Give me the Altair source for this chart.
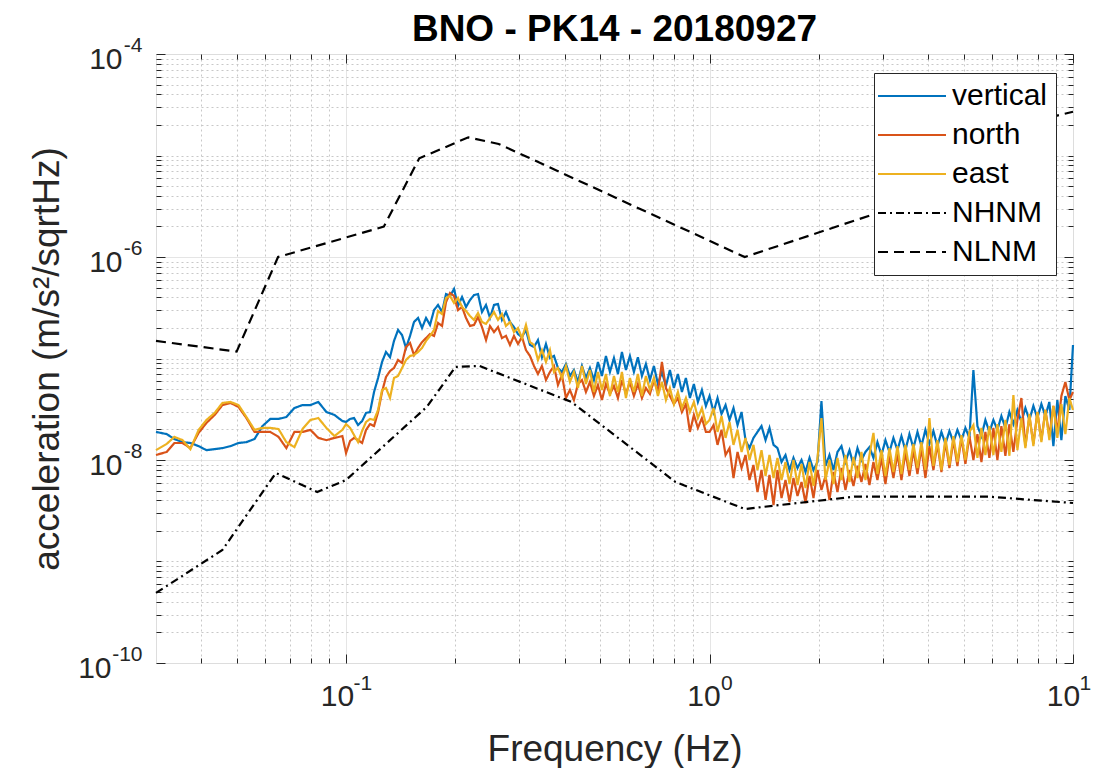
import altair as alt
import pandas as pd

TITLE = "BNO - PK14 - 20180927"
SERIES = ["vertical", "north", "east", "NHNM", "NLNM"]
COLORS = ["#0072BD", "#D95319", "#EDB120", "#000000", "#000000"]
DASHES = [[1, 0], [1, 0], [1, 0], [8, 4, 2, 4], [10, 6]]

# ---------------- frequency grid of the spectra (Hz) ----------------
FREQ_LOW = [0.0300, 0.0321, 0.0337, 0.0355, 0.0373, 0.0393, 0.0413, 0.0435, 0.0457, 0.0481,
            0.0506, 0.0532, 0.0560, 0.0589, 0.0619, 0.0652, 0.0685, 0.0721, 0.0759, 0.0798,
            0.0839, 0.0883, 0.0929, 0.0977]
FREQ_MID = [0.1000, 0.1026, 0.1052, 0.1079, 0.1107, 0.1135, 0.1164, 0.1194, 0.1225, 0.1256,
            0.1288, 0.1321, 0.1355, 0.1390, 0.1426, 0.1462, 0.1500, 0.1538, 0.1578, 0.1618,
            0.1660, 0.1702, 0.1746, 0.1791, 0.1837, 0.1884, 0.1932, 0.1982, 0.2032, 0.2085,
            0.2138, 0.2193, 0.2249, 0.2307, 0.2366, 0.2427, 0.2489, 0.2553, 0.2618, 0.2685,
            0.2754, 0.2825, 0.2897, 0.2972, 0.3048, 0.3126, 0.3206, 0.3289, 0.3373, 0.3459,
            0.3548, 0.3639, 0.3733, 0.3828, 0.3926, 0.4027, 0.4130, 0.4236, 0.4345, 0.4457,
            0.4571, 0.4688, 0.4808, 0.4932, 0.5058, 0.5188, 0.5321, 0.5458, 0.5598, 0.5741,
            0.5888, 0.6039, 0.6194, 0.6353, 0.6516, 0.6683, 0.6855, 0.7031, 0.7211, 0.7396,
            0.7586, 0.7780, 0.7980, 0.8185, 0.8395, 0.8610, 0.8831, 0.9057, 0.9290, 0.9528,
            0.9772]
FREQ_HIGH = [1.000, 1.026, 1.052, 1.079, 1.107, 1.135, 1.164, 1.194, 1.225, 1.256,
             1.288, 1.321, 1.355, 1.390, 1.426, 1.462, 1.500, 1.538, 1.578, 1.618,
             1.660, 1.702, 1.746, 1.791, 1.837, 1.884, 1.932, 1.982, 2.032, 2.085,
             2.138, 2.193, 2.249, 2.307, 2.366, 2.427, 2.489, 2.553, 2.618, 2.685,
             2.754, 2.825, 2.897, 2.972, 3.048, 3.126, 3.206, 3.289, 3.373, 3.459,
             3.548, 3.639, 3.733, 3.828, 3.926, 4.027, 4.130, 4.236, 4.345, 4.457,
             4.571, 4.688, 4.808, 4.932, 5.058, 5.188, 5.321, 5.458, 5.598, 5.741,
             5.888, 6.039, 6.194, 6.353, 6.516, 6.683, 6.855, 7.031, 7.211, 7.396,
             7.586, 7.780, 7.980, 8.185, 8.395, 8.610, 8.831, 9.057, 9.290, 9.528,
             9.772, 10.0]

# ---------------- vertical component (m/s^2/sqrtHz) ----------------
VERTICAL_LOW = [1.89e-8, 1.80e-8, 1.61e-8, 1.50e-8, 1.47e-8, 1.37e-8, 1.25e-8, 1.28e-8, 1.31e-8, 1.37e-8,
                1.47e-8, 1.50e-8, 1.61e-8, 2.16e-8, 2.54e-8, 2.54e-8, 2.65e-8, 3.25e-8, 3.48e-8, 3.48e-8,
                3.73e-8, 2.97e-8, 2.78e-8, 2.42e-8]
VERTICAL_MID = [2.37e-8, 2.54e-8, 2.59e-8, 2.21e-8, 2.42e-8, 2.91e-8, 2.97e-8, 4.68e-8, 6.43e-8, 9.24e-8,
                1.16e-7, 1.03e-7, 1.49e-7, 1.91e-7, 1.70e-7, 1.27e-7, 1.67e-7, 2.29e-7, 2.51e-7, 2.00e-7,
                2.51e-7, 2.14e-7, 3.00e-7, 3.37e-7, 2.87e-7, 4.32e-7, 4.13e-7, 4.84e-7, 3.29e-7, 4.04e-7,
                3.22e-7, 3.77e-7, 4.22e-7, 4.32e-7, 2.87e-7, 3.37e-7, 2.51e-7, 3.37e-7, 3.44e-7, 2.40e-7,
                2.87e-7, 2.29e-7, 2.04e-7, 1.74e-7, 1.63e-7, 1.91e-7, 1.36e-7, 1.30e-7, 1.52e-7, 1.03e-7,
                1.39e-7, 1.01e-7, 1.06e-7, 8.07e-8, 7.37e-8, 8.83e-8, 6.73e-8, 7.71e-8, 5.87e-8, 8.44e-8,
                6.43e-8, 8.07e-8, 6.14e-8, 9.24e-8, 6.73e-8, 1.06e-7, 7.37e-8, 1.01e-7, 7.04e-8, 1.16e-7,
                7.71e-8, 1.06e-7, 7.37e-8, 1.03e-7, 6.73e-8, 8.83e-8, 6.14e-8, 8.44e-8, 5.61e-8, 7.37e-8,
                5.36e-8, 7.71e-8, 5.12e-8, 7.04e-8, 4.68e-8, 6.43e-8, 4.08e-8, 5.61e-8, 3.73e-8, 4.90e-8,
                3.41e-8]
VERTICAL_HIGH = [4.27e-8, 2.97e-8, 4.08e-8, 2.84e-8, 3.48e-8, 2.48e-8, 3.25e-8, 2.21e-8, 2.97e-8, 1.57e-8,
                 1.31e-8, 1.65e-8, 1.89e-8, 2.16e-8, 1.57e-8, 2.07e-8, 1.41e-8, 1.31e-8, 9.56e-9, 1.12e-8,
                 7.97e-9, 1.05e-8, 8.34e-9, 1.00e-8, 7.62e-9, 1.05e-8, 7.97e-9, 9.56e-9, 3.81e-8, 8.73e-9,
                 1.12e-8, 7.97e-9, 1.20e-8, 1.37e-8, 9.56e-9, 1.25e-8, 8.93e-9, 1.31e-8, 1.00e-8, 1.20e-8,
                 1.34e-8, 1.05e-8, 1.50e-8, 1.12e-8, 1.57e-8, 1.20e-8, 1.65e-8, 1.25e-8, 1.72e-8, 1.25e-8,
                 1.80e-8, 1.31e-8, 1.89e-8, 1.37e-8, 1.98e-8, 1.44e-8, 1.93e-8, 1.37e-8, 1.89e-8, 1.44e-8,
                 1.93e-8, 1.50e-8, 1.98e-8, 1.57e-8, 2.07e-8, 1.65e-8, 7.71e-8, 2.16e-8, 1.72e-8, 2.48e-8,
                 1.89e-8, 2.48e-8, 1.98e-8, 2.71e-8, 2.07e-8, 2.97e-8, 2.26e-8, 3.11e-8, 2.37e-8, 3.25e-8,
                 2.48e-8, 3.41e-8, 2.59e-8, 3.56e-8, 2.71e-8, 3.73e-8, 1.37e-8, 3.90e-8, 1.57e-8, 4.27e-8,
                 3.11e-8, 1.36e-7]

# ---------------- north component ----------------
NORTH_LOW = [1.12e-8, 1.20e-8, 1.47e-8, 1.47e-8, 1.31e-8, 1.85e-8, 2.32e-8, 2.78e-8, 3.48e-8, 3.65e-8,
             3.33e-8, 2.59e-8, 1.89e-8, 1.89e-8, 1.89e-8, 1.69e-8, 1.31e-8, 1.89e-8, 1.89e-8, 1.98e-8,
             1.65e-8, 1.57e-8, 1.65e-8, 1.72e-8]
NORTH_MID = [1.17e-8, 1.54e-8, 1.65e-8, 1.57e-8, 1.47e-8, 1.98e-8, 2.26e-8, 2.16e-8, 2.97e-8, 4.68e-8,
             6.58e-8, 7.53e-8, 8.07e-8, 9.67e-8, 9.03e-8, 1.30e-7, 1.42e-7, 1.08e-7, 1.27e-7, 1.45e-7,
             1.59e-7, 1.74e-7, 1.67e-7, 2.24e-7, 2.09e-7, 3.60e-7, 4.42e-7, 4.13e-7, 3.00e-7, 3.22e-7,
             2.51e-7, 2.09e-7, 2.14e-7, 2.56e-7, 2.04e-7, 1.52e-7, 2.09e-7, 1.82e-7, 2.04e-7, 1.59e-7,
             1.67e-7, 1.36e-7, 1.67e-7, 1.39e-7, 1.63e-7, 1.21e-7, 1.06e-7, 8.44e-8, 7.04e-8, 8.44e-8,
             6.14e-8, 7.37e-8, 8.44e-8, 5.48e-8, 6.88e-8, 4.08e-8, 4.90e-8, 3.90e-8, 5.61e-8, 6.14e-8,
             4.68e-8, 5.87e-8, 4.27e-8, 5.48e-8, 3.90e-8, 5.61e-8, 4.47e-8, 5.36e-8, 4.08e-8, 6.14e-8,
             4.47e-8, 5.87e-8, 4.27e-8, 5.61e-8, 4.08e-8, 5.12e-8, 4.47e-8, 6.14e-8, 4.68e-8, 9.24e-8,
             5.12e-8, 4.27e-8, 3.56e-8, 4.08e-8, 2.97e-8, 3.56e-8, 1.89e-8, 2.78e-8, 2.07e-8, 2.59e-8,
             1.89e-8]
NORTH_HIGH = [1.89e-8, 2.21e-8, 1.41e-8, 1.98e-8, 1.12e-8, 1.31e-8, 6.65e-9, 1.20e-8, 8.34e-9, 1.12e-8,
              6.35e-9, 8.93e-9, 4.84e-9, 7.97e-9, 4.04e-9, 7.12e-9, 3.60e-9, 7.97e-9, 4.22e-9, 6.35e-9,
              3.86e-9, 6.65e-9, 4.42e-9, 6.07e-9, 3.77e-9, 6.96e-9, 4.22e-9, 7.97e-9, 5.07e-9, 6.96e-9,
              4.04e-9, 7.62e-9, 4.84e-9, 8.34e-9, 5.07e-9, 7.97e-9, 5.55e-9, 8.73e-9, 6.07e-9, 9.14e-9,
              5.67e-9, 9.56e-9, 6.35e-9, 1.05e-8, 5.80e-9, 1.10e-8, 6.65e-9, 1.15e-8, 6.35e-9, 1.20e-8,
              6.96e-9, 1.25e-8, 7.28e-9, 1.31e-8, 6.65e-9, 1.37e-8, 7.97e-9, 1.44e-8, 7.62e-9, 1.50e-8,
              8.34e-9, 1.57e-8, 8.73e-9, 1.65e-8, 9.14e-9, 1.72e-8, 1.00e-8, 1.80e-8, 9.56e-9, 1.89e-8,
              1.05e-8, 2.07e-8, 1.00e-8, 2.16e-8, 1.10e-8, 2.26e-8, 1.20e-8, 2.48e-8, 4.08e-8, 1.37e-8,
              2.71e-8, 1.44e-8, 2.97e-8, 1.57e-8, 3.11e-8, 1.72e-8, 3.41e-8, 1.89e-8, 4.27e-8, 5.87e-8,
              3.90e-8, 4.68e-8]

# ---------------- east component ----------------
EAST_LOW = [1.25e-8, 1.44e-8, 1.69e-8, 1.57e-8, 1.28e-8, 1.98e-8, 2.48e-8, 2.91e-8, 3.65e-8, 3.73e-8,
            3.48e-8, 2.65e-8, 1.98e-8, 2.07e-8, 2.07e-8, 2.02e-8, 1.50e-8, 1.34e-8, 2.02e-8, 2.48e-8,
            2.59e-8, 2.07e-8, 1.72e-8, 1.98e-8]
EAST_MID = [2.26e-8, 2.07e-8, 1.76e-8, 1.50e-8, 1.93e-8, 2.37e-8, 2.54e-8, 2.48e-8, 3.11e-8, 4.90e-8,
            5.12e-8, 4.08e-8, 6.43e-8, 6.73e-8, 8.07e-8, 9.67e-8, 1.06e-7, 1.08e-7, 1.16e-7, 1.27e-7,
            1.49e-7, 1.67e-7, 1.91e-7, 2.94e-7, 2.74e-7, 3.95e-7, 4.13e-7, 3.52e-7, 3.95e-7, 3.22e-7,
            2.94e-7, 2.62e-7, 2.40e-7, 2.81e-7, 2.29e-7, 2.19e-7, 2.51e-7, 2.87e-7, 2.40e-7, 2.74e-7,
            2.09e-7, 2.29e-7, 1.82e-7, 2.00e-7, 1.59e-7, 2.14e-7, 1.45e-7, 1.36e-7, 9.67e-8, 1.21e-7,
            9.24e-8, 1.21e-7, 7.37e-8, 8.07e-8, 6.43e-8, 8.44e-8, 5.87e-8, 7.37e-8, 5.12e-8, 8.44e-8,
            5.61e-8, 7.71e-8, 4.68e-8, 7.37e-8, 4.90e-8, 7.04e-8, 4.27e-8, 6.73e-8, 4.68e-8, 7.37e-8,
            4.08e-8, 6.43e-8, 4.68e-8, 7.04e-8, 4.27e-8, 6.73e-8, 4.90e-8, 6.43e-8, 4.27e-8, 5.87e-8,
            3.90e-8, 5.12e-8, 3.56e-8, 4.68e-8, 3.25e-8, 4.08e-8, 2.97e-8, 3.73e-8, 2.59e-8, 3.25e-8,
            2.26e-8]
EAST_HIGH = [2.48e-8, 3.25e-8, 1.89e-8, 2.71e-8, 1.65e-8, 2.37e-8, 1.41e-8, 1.98e-8, 1.20e-8, 1.65e-8,
             1.00e-8, 1.41e-8, 7.97e-9, 1.25e-8, 6.96e-9, 1.12e-8, 6.65e-9, 1.05e-8, 6.35e-9, 9.56e-9,
             5.80e-9, 1.00e-8, 5.67e-9, 9.14e-9, 5.30e-9, 9.56e-9, 5.55e-9, 1.05e-8, 2.59e-8, 6.35e-9,
             1.00e-8, 5.80e-9, 1.05e-8, 6.35e-9, 1.12e-8, 6.07e-9, 1.07e-8, 6.65e-9, 1.20e-8, 6.35e-9,
             1.12e-8, 1.85e-8, 7.28e-9, 1.25e-8, 6.96e-9, 1.31e-8, 7.62e-9, 1.37e-8, 7.28e-9, 1.41e-8,
             7.97e-9, 1.44e-8, 8.34e-9, 1.50e-8, 7.97e-9, 2.59e-8, 8.73e-9, 1.57e-8, 7.97e-9, 1.65e-8,
             8.93e-9, 1.72e-8, 9.56e-9, 1.76e-8, 1.00e-8, 1.89e-8, 2.21e-8, 1.05e-8, 2.07e-8, 1.12e-8,
             2.16e-8, 1.12e-8, 2.26e-8, 1.20e-8, 2.48e-8, 1.10e-8, 4.37e-8, 1.25e-8, 2.59e-8, 1.31e-8,
             2.84e-8, 1.37e-8, 2.97e-8, 1.50e-8, 3.11e-8, 1.57e-8, 3.41e-8, 1.65e-8, 3.56e-8, 1.80e-8,
             4.08e-8, 3.11e-8]

# ---------------- noise models (as labelled in the legend) ----------------
NHNM_FREQ = [0.030, 0.0457, 0.0641, 0.0833, 0.100, 0.167, 0.200, 0.233, 0.417, 0.806, 1.25, 2.50, 5.88, 10.0]
NHNM_ACC = [4.9e-10, 1.30e-9, 7.45e-9, 4.84e-9, 6.35e-9, 3.35e-8, 8.25e-8, 8.44e-8, 3.73e-8, 6.07e-9,
            3.29e-9, 4.35e-9, 4.35e-9, 3.77e-9]
NLNM_FREQ = [0.030, 0.050, 0.065, 0.127, 0.159, 0.217, 0.263, 1.25, 3.125, 4.55, 10.0]
NLNM_ACC = [1.49e-7, 1.17e-7, 1.0e-6, 1.99e-6, 9.38e-6, 1.51e-5, 1.30e-5, 1.0e-6, 2.97e-6, 1.35e-5, 2.7e-5]

FREQ = FREQ_LOW + FREQ_MID + FREQ_HIGH
SPECTRA = {
    "vertical": VERTICAL_LOW + VERTICAL_MID + VERTICAL_HIGH,
    "north": NORTH_LOW + NORTH_MID + NORTH_HIGH,
    "east": EAST_LOW + EAST_MID + EAST_HIGH,
}
rows = []
for name, vals in SPECTRA.items():
    assert len(vals) == len(FREQ), (name, len(vals), len(FREQ))
    for f, a in zip(FREQ, vals):
        rows.append({"freq": f, "acc": a, "series": name})
for f, a in zip(NHNM_FREQ, NHNM_ACC):
    rows.append({"freq": f, "acc": a, "series": "NHNM"})
for f, a in zip(NLNM_FREQ, NLNM_ACC):
    rows.append({"freq": f, "acc": a, "series": "NLNM"})
df = pd.DataFrame(rows)

# ---------------- styling ----------------
FONT = "Liberation Sans"
AXC = "#262626"
W, H = 917, 609

XV = [0.04, 0.05, 0.06, 0.07, 0.08, 0.09, 0.1, 0.2, 0.3, 0.4, 0.5, 0.6, 0.7, 0.8, 0.9,
      1.0, 2.0, 3.0, 4.0, 5.0, 6.0, 7.0, 8.0, 9.0, 10.0]
Y_DEC = [1e-10, 1e-9, 1e-8, 1e-7, 1e-6, 1e-5, 1e-4]
YV = list(Y_DEC)
for d in Y_DEC[:-1]:
    for m in range(2, 10):
        YV.append(m * d)

XMAJ = "datum.value == 0.1 || datum.value == 1 || datum.value == 10"
YMAJ = ("datum.value == 0.0001 || datum.value == 0.000001 || "
        "datum.value == 0.00000001 || datum.value == 0.0000000001")
X_BASE = "(" + XMAJ + ") ? '10' : ''"
X_SUP = "datum.value == 0.1 ? '-1' : datum.value == 1 ? '0' : datum.value == 10 ? '1' : ''"
Y_BASE = "(" + YMAJ + ") ? '10' : ''"
Y_SUP = ("datum.value == 0.0001 ? '-4' : datum.value == 0.000001 ? '-6' : "
         "datum.value == 0.00000001 ? '-8' : datum.value == 0.0000000001 ? '-10' : ''")

xs = alt.Scale(type="log", domain=[0.03, 10], nice=False)
ys = alt.Scale(type="log", domain=[1e-10, 1e-4], nice=False)


def cond(test, a, b):
    return {"condition": {"test": test, "value": a}, "value": b}


def cond3(test1, a, test2, b, c):
    return {"condition": [{"test": test1, "value": a}, {"test": test2, "value": b}], "value": c}


x_main = alt.Axis(orient="bottom", values=XV, labelExpr=X_BASE, labelFontSize=30, labelFont=FONT,
                  labelColor=AXC, labelPadding=33, labelBaseline="middle", labelAlign="center",
                  labelOffset=cond3("datum.value == 0.1", -9, "datum.value == 10", -10, -6),
                  labelFlush=False, labelOverlap=False,
                  ticks=False, tickSize=0, domain=False, grid=True,
                  gridColor=cond(XMAJ, "#dcdcdc", "#c8c8c8"), gridDash=cond(XMAJ, [1, 0], [2, 3]),
                  gridWidth=1,
                  title="Frequency (Hz)", titleFontSize=37, titleFont=FONT, titleFontWeight="normal",
                  titleColor=AXC, titleX=W / 2, titleY=97, titleBaseline="alphabetic", titleAlign="center")
y_main = alt.Axis(orient="left", values=YV, labelExpr=Y_BASE, labelFontSize=30, labelFont=FONT,
                  labelColor=AXC, labelPadding=cond("datum.value == 0.0000000001", 45, 34),
                  labelOffset=5, labelBaseline="middle", labelAlign="right",
                  labelFlush=False, labelOverlap=False,
                  ticks=False, tickSize=0, domain=False, grid=True,
                  gridColor=cond(YMAJ, "#dcdcdc", "#c8c8c8"), gridDash=cond(YMAJ, [1, 0], [2, 3]),
                  gridWidth=1,
                  title="acceleration (m/s\u00b2/sqrtHz)", titleFontSize=37, titleFont=FONT,
                  titleFontWeight="normal", titleColor=AXC, titleX=-98, titleY=H / 2, titleAngle=-90,
                  titleBaseline="alphabetic", titleAlign="center")

x_sup = alt.Axis(orient="bottom", values=XV, labelExpr=X_SUP, labelFontSize=21, labelFont=FONT,
                 labelColor=AXC, labelPadding=20, labelBaseline="middle", labelAlign="left",
                 labelOffset=cond3("datum.value == 0.1", 7, "datum.value == 10", 6, 11),
                 labelFlush=False, labelOverlap=False, ticks=False, tickSize=0, domain=False,
                 grid=False, title=None)
y_sup = alt.Axis(orient="left", values=YV, labelExpr=Y_SUP, labelFontSize=21, labelFont=FONT,
                 labelColor=AXC, labelPadding=14, labelBaseline="middle", labelAlign="right",
                 labelOffset=-9, labelFlush=False, labelOverlap=False, ticks=False, tickSize=0,
                 domain=False, grid=False, title=None)


def tick_axis(orient, offset, values, test):
    return alt.Axis(orient=orient, offset=offset, values=values, labels=False, grid=False, domain=False,
                    ticks=True, tickSize=cond(test, 9, 5), tickColor=AXC, tickWidth=1, title=None)


host = alt.Chart(df).transform_filter(alt.datum.series == "NLNM").mark_line(opacity=0)

layer_a = host.encode(x=alt.X("freq:Q", scale=xs, axis=x_main),
                      y=alt.Y("acc:Q", scale=ys, axis=y_main))
layer_d = host.encode(x=alt.X("freq:Q", scale=xs, axis=x_sup),
                      y=alt.Y("acc:Q", scale=ys, axis=y_sup))
layer_b = host.encode(x=alt.X("freq:Q", scale=xs, axis=tick_axis("top", -H, XV, XMAJ)),
                      y=alt.Y("acc:Q", scale=ys, axis=tick_axis("right", -W, YV, YMAJ)))
layer_c = host.encode(x=alt.X("freq:Q", scale=xs, axis=tick_axis("bottom", -H, XV, XMAJ)),
                      y=alt.Y("acc:Q", scale=ys, axis=tick_axis("left", -W, YV, YMAJ)))

legend = alt.Legend(orient="none", legendX=718, legendY=19, title=None,
                    symbolType="M-1,0H5.8", symbolSize=400, symbolStrokeWidth=2, symbolOffset=-9,
                    labelFontSize=30, labelFont=FONT, labelColor="#000000", labelOffset=49,
                    rowPadding=9, padding=8, strokeColor=AXC, fillColor="#ffffff",
                    labelLimit=300, cornerRadius=0)

series_layers = []
for s in SERIES:
    series_layers.append(
        alt.Chart(df).transform_filter(alt.datum.series == s).mark_line(strokeWidth=2.2).encode(
            x=alt.X("freq:Q", scale=xs, axis=None),
            y=alt.Y("acc:Q", scale=ys, axis=None),
            color=alt.Color("series:N", scale=alt.Scale(domain=SERIES, range=COLORS), legend=legend),
            strokeDash=alt.StrokeDash("series:N", scale=alt.Scale(domain=SERIES, range=DASHES), legend=legend),
        )
    )

chart = (
    alt.layer(layer_a, layer_d, layer_b, layer_c, *series_layers)
    .resolve_axis(x="independent", y="independent")
    .resolve_scale(x="shared", y="shared")
    .properties(
        width=W, height=H,
        autosize=alt.AutoSizeParams(type="none"),
        padding={"left": 148, "top": 46, "right": 19, "bottom": 105},
        title=alt.TitleParams(TITLE, fontSize=37, fontWeight="bold", font=FONT, color="#000000",
                              anchor="middle", frame="group", offset=-44, baseline="alphabetic"),
    )
    .configure_view(stroke=AXC, strokeWidth=1.3)
    .configure(background="#ffffff")
)

chart.save("out.html", embed_options={"renderer": "svg", "actions": False})
